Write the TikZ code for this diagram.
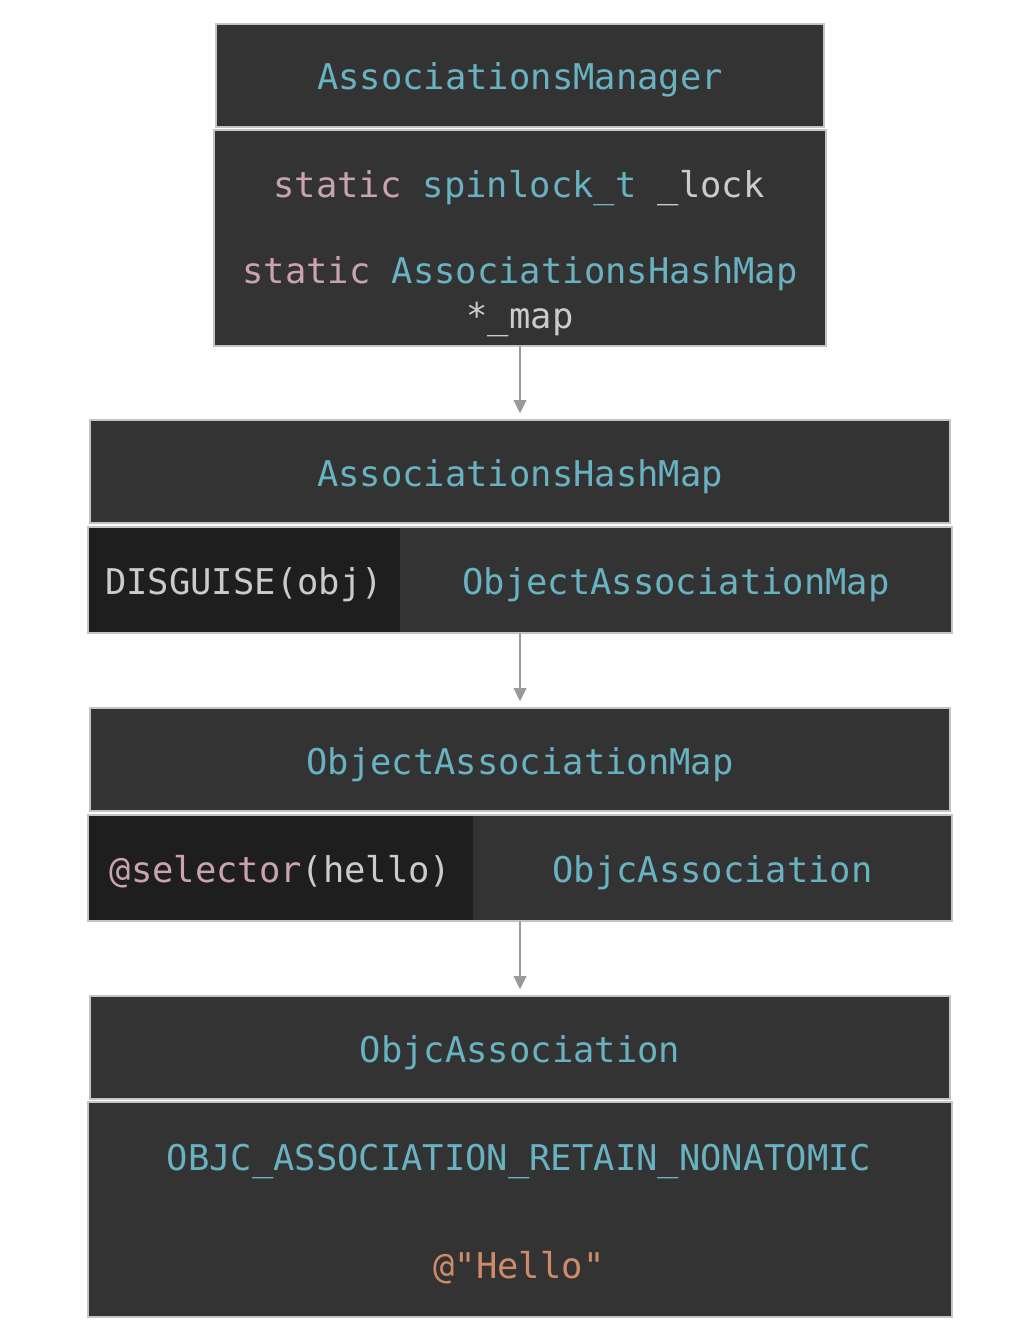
\documentclass[tikz,border=0pt]{standalone}
\usepackage{fontspec}
\setmonofont{DejaVu Sans Mono}
\usepackage{tikz}
\usetikzlibrary{                          % TikZ libraries
                shapes,                   % .
                arrows.meta,              % .
                calc}
\usepackage{xcolor}
\definecolor{boxgray}{HTML}{333333}
\definecolor{keygray}{HTML}{1E1E1E}
\definecolor{edgegray}{HTML}{C4C4C4}
\definecolor{codeblue}{HTML}{68B2C2}
\definecolor{codepink}{HTML}{C9A3B3}
\definecolor{codetext}{HTML}{CBCBCB}
\definecolor{codeorange}{HTML}{CF8A68}
\definecolor{arrowgray}{HTML}{9A9A9A}

\begin{document}
\begin{tikzpicture}[x=0.75pt,y=-0.75pt
                    ]
                % define styles
\tikzset{cell/.style={rectangle,
                       draw=edgegray,
                       line width=0.9pt,
                       fill=boxgray,
                       inner sep=0,
                       outer sep=0,
                       font=\ttfamily\fontsize{26.6}{30}\selectfont,
                       text height=21.75pt,
                       text depth=0pt,
                       },
         head/.style={cell,
                       text=codeblue,
                       minimum width=645pt,
                       minimum height=77.25pt,
                       },
         keycell/.style={cell,
                       draw=none,
                       fill=keygray,
                       text=codetext,
                       minimum height=79.5pt,
                       },
         valcell/.style={cell,
                       draw=none,
                       text=codeblue,
                       minimum height=79.5pt,
                       },
         rowedge/.style={draw=edgegray,
                       line width=0.9pt,
                       },
         code/.style={anchor=base,
                       inner sep=0,
                       font=\ttfamily\fontsize{26.6}{30}\selectfont,
                       text=codetext,
                       },
         conn/.style={draw=arrowgray,
                       line width=1.5pt,
                       shorten >=5pt,
                       -{Triangle[length=10pt,width=9.5pt]},
                       }
}

\useasboundingbox (0,0) rectangle (1028,1330);
\fill[white] (0,0) rectangle (1028,1330);

% AssociationsManager
\node[head,minimum width=456pt]  (mgrhead) at (520,75.5)  {AssociationsManager};
\node[cell,minimum width=459pt,minimum height=162pt] (mgrbody) at (520,238) {};
\node[code] (lockline) at (519,198)
    {\textcolor{codepink}{static} \textcolor{codeblue}{spinlock\_t} \_lock};
\node[code] (mapline)  at (520,283)
    {\textcolor{codepink}{static} \textcolor{codeblue}{AssociationsHashMap}};
\node[code] (mapptr)   at (520,328) {*\_map};

% AssociationsHashMap
\node[head]                      (hashhead) at (520,471.5) {AssociationsHashMap};
\node[keycell,minimum width=234pt] (hashkey)  at (244,580)   {DISGUISE(obj)};
\node[valcell,minimum width=414pt] (hashval)  at (676,580)   {ObjectAssociationMap};
\draw[rowedge] (hashkey.north west) rectangle (hashval.south east);

% ObjectAssociationMap
\node[head]                          (objhead) at (520,759.5) {ObjectAssociationMap};
\node[keycell,minimum width=288.75pt] (objkey)  at (280.5,868) {\textcolor{codepink}{@selector}(hello)};
\node[valcell,minimum width=359.25pt] (objval)  at (712.5,868) {ObjcAssociation};
\draw[rowedge] (objkey.north west) rectangle (objval.south east);

% ObjcAssociation
\node[head]                       (assohead) at (520,1047.5) {ObjcAssociation};
\node[cell,minimum width=648pt,minimum height=161.25pt] (assobody) at (520,1209.5) {};
\node[code,text=codeblue]   (policy) at (519,1170) {OBJC\_ASSOCIATION\_RETAIN\_NONATOMIC};
\node[code,text=codeorange] (value)  at (519,1278) {@"Hello"};

% connectors
\draw[conn] (mgrbody.south) -- (hashhead.north);
\draw[conn] (hashkey.south -| hashhead.south) -- (objhead.north);
\draw[conn] (objkey.south -| objhead.south) -- (assohead.north);

\end{tikzpicture}
\end{document}
